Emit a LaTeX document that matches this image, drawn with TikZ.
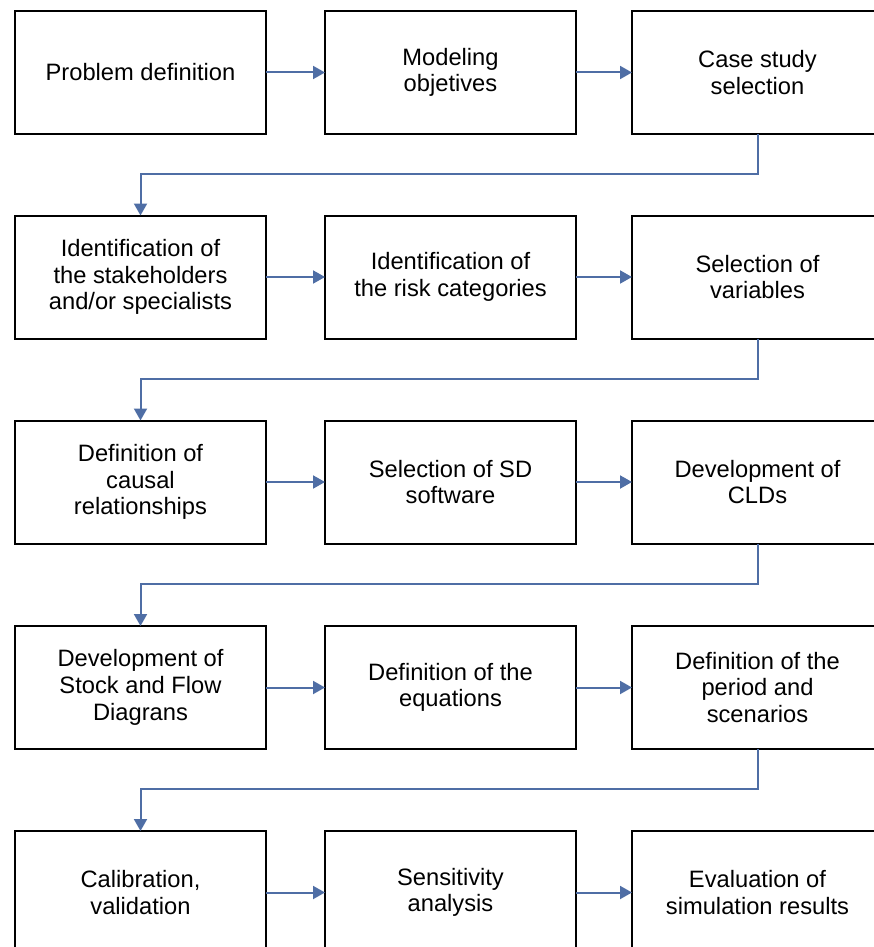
\documentclass[tikz,border=0pt]{standalone}
\usepackage{fontspec}
\setmainfont{Liberation Sans}
\usepackage{tikz}
\usetikzlibrary{arrows.meta}
\definecolor{linkblue}{RGB}{79,110,165}
\tikzstyle{box}=[draw,line width=2pt,rectangle,minimum width=251pt,minimum height=123pt,inner sep=0,outer sep=0,align=center,font=\fontsize{23.7}{26.7}\selectfont]
\tikzstyle{arr}=[draw=linkblue,line width=2pt,-{Triangle[length=12pt,width=13pt]},color=linkblue]

\begin{document}
\begin{tikzpicture}[x=1pt,y=-1pt]
	\useasboundingbox (0,0) rectangle (873,947);

                        \node[box] (a) at (140.5,72.5) {Problem definition};
                        \node[box] (b) at (450.5,72.5) {Modeling\\objetives};
                        \node[box] (c) at (757.5,72.5) {Case study\\selection};

                        \node[box] (d) at (140.5,277) {Identification of\\the stakeholders\\and/or specialists};
                        \node[box] (e) at (450.5,277) {Identification of\\the risk categories};
                        \node[box] (f) at (757.5,277) {Selection of\\variables};

                        \node[box] (g) at (140.5,482) {Definition of\\causal\\relationships};
                        \node[box] (h) at (450.5,482) {Selection of SD\\software};
                        \node[box] (i) at (757.5,482) {Development of\\CLDs};

                        \node[box] (j) at (140.5,687.5) {Development of\\Stock and Flow\\Diagrans};
                        \node[box] (k) at (450.5,687.5) {Definition of the\\equations};
                        \node[box] (l) at (757.5,687.5) {Definition of the\\period and\\scenarios};

                        \node[box] (m) at (140.5,892.5) {Calibration,\\validation};
                        \node[box] (n) at (450.5,892.5) {Sensitivity\\analysis};
                        \node[box] (o) at (757.5,892.5) {Evaluation of\\simulation results};

                        \draw[arr] (a) -- (b);
                        \draw[arr] (b) -- (c);
                        \draw[arr] (c.south) -- ++(0,40) -| (d.north);
                        \draw[arr] (d) -- (e);
                        \draw[arr] (e) -- (f);
                        \draw[arr] (f.south) -- ++(0,40) -| (g.north);
                        \draw[arr] (g) -- (h);
                        \draw[arr] (h) -- (i);
                        \draw[arr] (i.south) -- ++(0,40) -| (j.north);
                        \draw[arr] (j) -- (k);
                        \draw[arr] (k) -- (l);
                        \draw[arr] (l.south) -- ++(0,40) -| (m.north);
                        \draw[arr] (m) -- (n);
                        \draw[arr] (n) -- (o);

    \end{tikzpicture}
\end{document}
